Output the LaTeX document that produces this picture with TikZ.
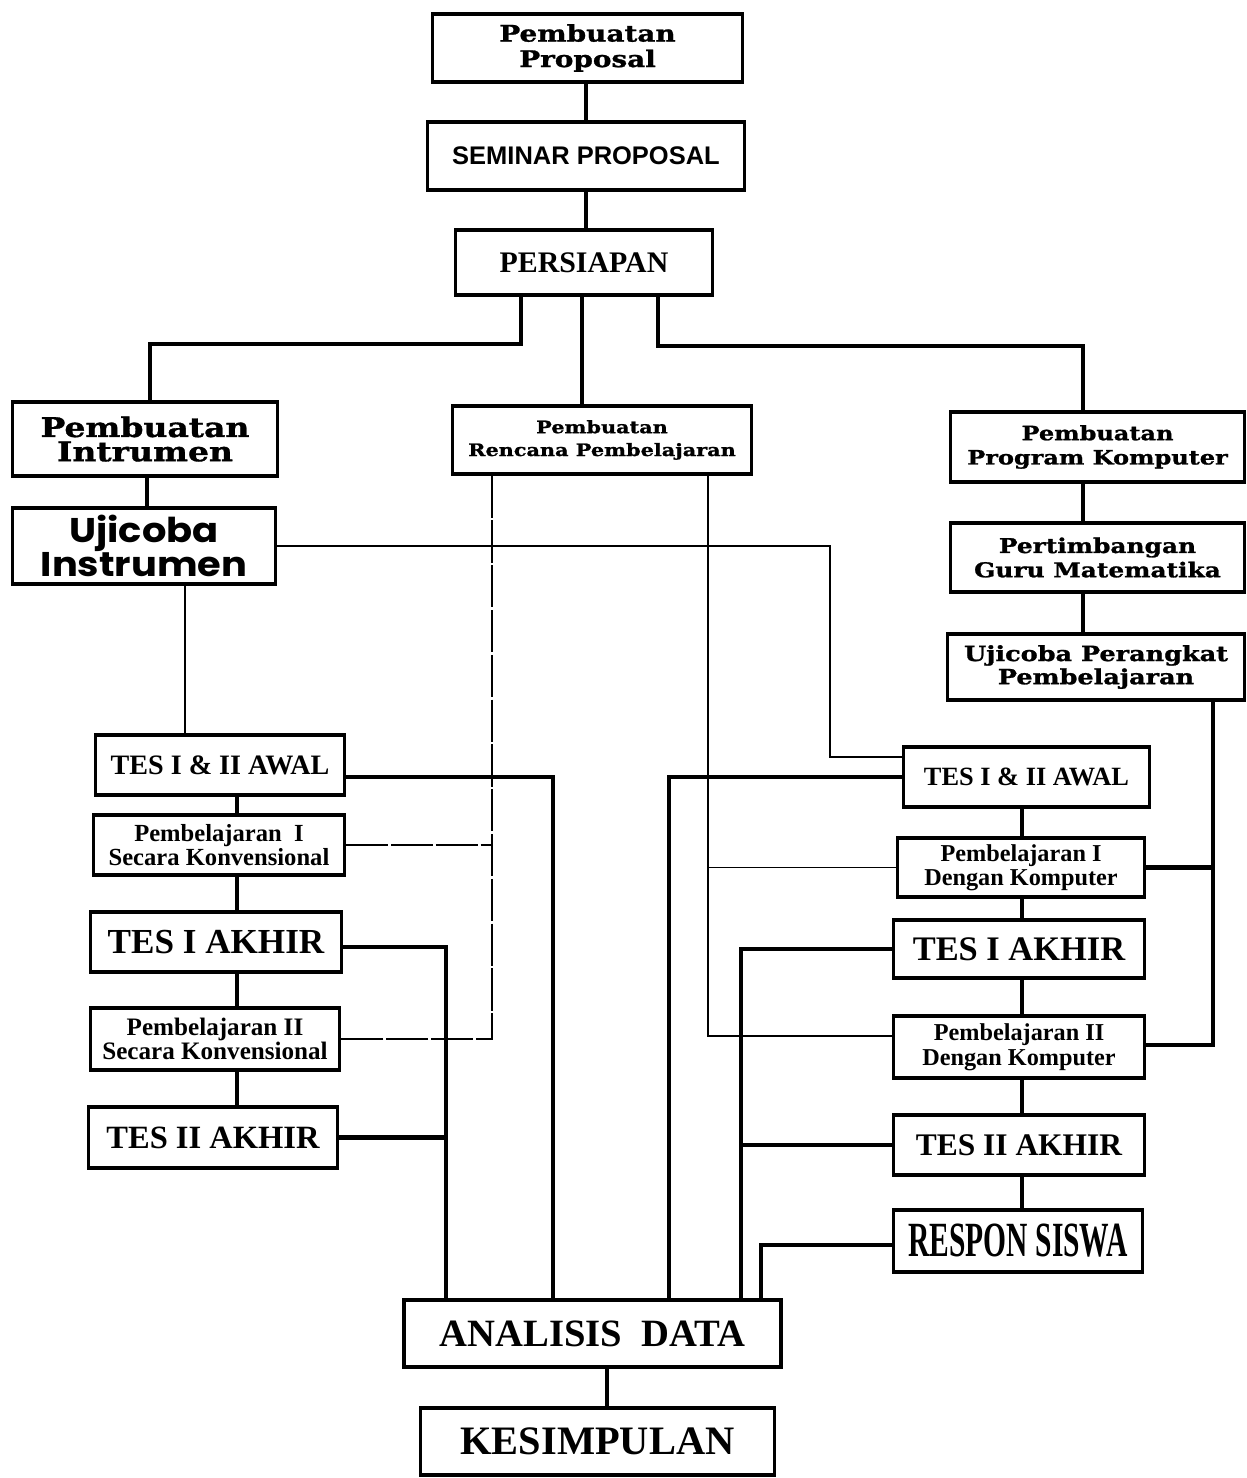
\documentclass[tikz,border=0pt]{standalone}
\usepackage{fontspec}
\setmainfont{Liberation Serif}
\setsansfont{Liberation Sans}
\newfontfamily\slabfont[FakeStretch=1.22,BoldFeatures={FakeBold=1.2}]{DejaVu Serif}
\newfontfamily\geofont[FakeStretch=1.12]{Poppins}
\newfontfamily\condfont[FakeStretch=0.6]{Liberation Serif}
\newcommand\fsz[2]{\fontsize{#1}{#2}\selectfont}
\def\px{0.5669pt}
\newcommand\bx[7]{\node[box,font={#6},minimum width={(#4-#2)*\px},minimum height={(#5-#3)*\px}] (#1) at ({(#2+#4)/2},{(#3+#5)/2}) {#7};}
\begin{document}
\begin{tikzpicture}[x=0.02cm,y=-0.02cm,
  box/.style={draw, line width=2pt, inner sep=0pt, align=center, fill=white},
  conn/.style={line width=2.4pt},
  thinl/.style={line width=0.9pt},
  brk/.style={line width=0.8pt, dash pattern=on 24pt off 1.5pt}]
\useasboundingbox (0,0) rectangle (1247,1478);
% boxes
\bx{prop}{432}{14}{743}{82}{\slabfont\bfseries\fsz{13}{14.5}}{Pembuatan\\Proposal}
\bx{sem}{427}{122}{745}{190}{\sffamily\bfseries\fsz{14.5}{16}}{SEMINAR PROPOSAL}
\bx{pers}{455}{230}{713}{295}{\bfseries\fsz{17}{19}}{PERSIAPAN}
\bx{intr}{12}{402}{278}{476}{\slabfont\bfseries\fsz{15.4}{13.8}}{Pembuatan\\Intrumen}
\bx{ujic}{12}{508}{276}{584}{\geofont\bfseries\fsz{19.5}{19}}{Ujicoba\\Instrumen}
\bx{renc}{452}{406}{752}{474}{\slabfont\bfseries\fsz{9.7}{13}}{Pembuatan\\Rencana Pembelajaran}
\bx{prog}{950}{412}{1245}{482}{\slabfont\bfseries\fsz{11.2}{13.8}}{Pembuatan\\Program Komputer}
\bx{pert}{950}{523}{1245}{592}{\slabfont\bfseries\fsz{11.6}{13.8}}{Pertimbangan\\Guru Matematika}
\bx{ujip}{947}{634}{1245}{700}{\slabfont\bfseries\fsz{11.9}{13.2}}{Ujicoba Perangkat\\Pembelajaran}
\bx{lawal}{95}{735}{345}{795}{\bfseries\fsz{16}{18}}{TES I \& II AWAL}
\bx{lp1}{93}{815}{345}{875}{\bfseries\fsz{14}{14}}{Pembelajaran\ \ I\\Secara Konvensional}
\bx{lt1}{90}{912}{342}{972}{\bfseries\fsz{20}{22}}{TES I AKHIR}
\bx{lp2}{90}{1008}{340}{1070}{\bfseries\fsz{14.3}{14}}{Pembelajaran II\\Secara Konvensional}
\bx{lt2}{88}{1107}{338}{1168}{\bfseries\fsz{18.5}{20}}{TES II AKHIR}
\bx{rawal}{903}{747}{1150}{807}{\bfseries\fsz{15}{17}}{TES I \& II AWAL}
\bx{rp1}{897}{838}{1145}{897}{\bfseries\fsz{13.8}{13.6}}{Pembelajaran I\\Dengan Komputer}
\bx{rt1}{893}{920}{1145}{978}{\bfseries\fsz{19.6}{21}}{TES I AKHIR}
\bx{rp2}{893}{1016}{1145}{1078}{\bfseries\fsz{13.8}{14}}{Pembelajaran II\\Dengan Komputer}
\bx{rt2}{893}{1115}{1145}{1175}{\bfseries\fsz{17.9}{20}}{TES II AKHIR}
\bx{resp}{893}{1210}{1143}{1272}{\condfont\bfseries\fsz{28}{29}}{RESPON SISWA}
\bx{anal}{403}{1300}{782}{1367}{\bfseries\fsz{22}{24}}{ANALISIS\ \ DATA}
\bx{kes}{420}{1408}{775}{1475}{\bfseries\fsz{23}{25}}{KESIMPULAN}
% helper coordinates
\coordinate (tx) at (586,0);
\coordinate (mx) at (582,0);
\coordinate (bl) at (521,344);
\coordinate (br) at (658,346);
\coordinate (ix) at (150,0);
\coordinate (ix2) at (147,0);
\coordinate (kx) at (1083,0);
\coordinate (ux) at (185,0);
\coordinate (ux2) at (830,0);
\coordinate (lx) at (237,0);
\coordinate (rx) at (1022,0);
\coordinate (rr) at (1213,0);
\coordinate (rl) at (492,0);
\coordinate (rrl) at (708,0);
\coordinate (a1) at (553,0);
\coordinate (a2) at (446,0);
\coordinate (a3) at (669,0);
\coordinate (a4) at (741,0);
\coordinate (a5) at (761,0);
\coordinate (kx2) at (607,0);
% top chain
\draw[conn] (prop.south -| tx) -- (sem.north -| tx);
\draw[conn] (sem.south -| tx) -- (pers.north -| tx);
\draw[conn] (pers.south -| bl) -- (bl) -| (intr.north -| ix);
\draw[conn] (pers.south -| mx) -- (renc.north -| mx);
\draw[conn] (pers.south -| br) -- (br) -| (prog.north -| kx);
\draw[conn] (intr.south -| ix2) -- (ujic.north -| ix2);
\draw[conn] (prog.south -| kx) -- (pert.north -| kx);
\draw[conn] (pert.south -| kx) -- (ujip.north -| kx);
% thin from Ujicoba Instrumen
\draw[thinl] (ujic.south -| ux) -- (lawal.north -| ux);
\draw[thinl] (ujic.east) -- (ujic.east -| ux2) |- ([yshift=20*\px]rawal.west);
% left column
\draw[conn] (lawal.south -| lx) -- (lp1.north -| lx);
\draw[conn] (lp1.south -| lx) -- (lt1.north -| lx);
\draw[conn] (lt1.south -| lx) -- (lp2.north -| lx);
\draw[conn] (lp2.south -| lx) -- (lt2.north -| lx);
% right column
\draw[conn] (rawal.south -| rx) -- (rp1.north -| rx);
\draw[conn] (rp1.south -| rx) -- (rt1.north -| rx);
\draw[conn] (rt1.south -| rx) -- (rp2.north -| rx);
\draw[conn] (rp2.south -| rx) -- (rt2.north -| rx);
\draw[conn] (rt2.south -| rx) -- (resp.north -| rx);
% Ujicoba Perangkat to computer lessons
\draw[conn] (ujip.south -| rr) |- ([yshift=2*\px]rp2.east);
\draw[conn] (rp1.east) -- (rp1.east -| rr);
% Rencana Pembelajaran to lessons
\draw[brk] (renc.south -| rl) |- (lp2.east);
\draw[brk] (lp1.east) -- (lp1.east -| rl);
\draw[thinl] (renc.south -| rrl) |- ([yshift=11*\px]rp2.west);
\draw[thinl] (rp1.west) -- (rp1.west -| rrl);
% to Analisis Data
\draw[conn] ([yshift=-12*\px]lawal.east) -| (anal.north -| a1);
\draw[conn] ([yshift=-5*\px]lt1.east) -| (anal.north -| a2);
\draw[conn] (lt2.east) -- (lt2.east -| a2);
\draw[conn] (rawal.west) -| (anal.north -| a3);
\draw[conn] (rt1.west) -| (anal.north -| a4);
\draw[conn] (rt2.west) -- (rt2.west -| a4);
\draw[conn] ([yshift=-4*\px]resp.west) -| (anal.north -| a5);
\draw[conn] (anal.south -| kx2) -- (kes.north -| kx2);
\end{tikzpicture}
\end{document}
